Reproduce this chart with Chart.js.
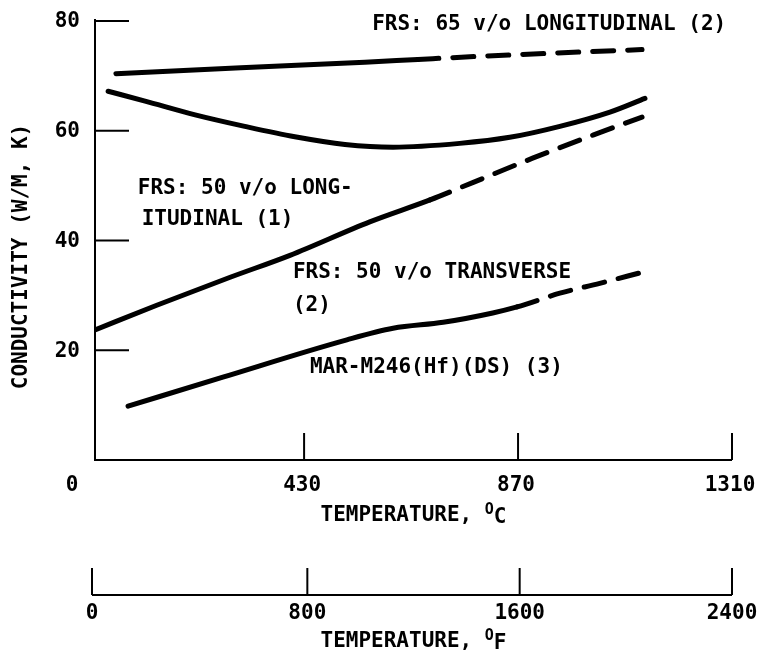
<!DOCTYPE html>
<html>
<head>
<meta charset="utf-8">
<script src="https://cdn.jsdelivr.net/npm/chart.js@4.4.0/dist/chart.umd.min.js"></script>
<style>
  body { margin: 0; background: #fff; }
  canvas { display: block; }
</style>
</head>
<body>
<canvas id="conductivityChart" width="757" height="661"></canvas>
<script>
// Values: temperature in deg C, conductivity in W/(m K)
const frs65LongTemp = [43, 300, 555, 664, 800, 1125];
const frs65LongCond = [70.4, 71.5, 72.5, 73.0, 73.6, 74.8];

const frs50LongTemp = [27, 103, 206, 308, 411, 514, 613, 750, 853, 956, 1059, 1131];
const frs50LongCond = [67.2, 65.4, 62.9, 60.8, 58.9, 57.5, 57.0, 57.7, 58.8, 60.8, 63.4, 65.9];

const frs50TransTemp = [0, 127, 278, 401, 565, 689, 778, 900, 1024, 1125];
const frs50TransCond = [23.7, 28.2, 33.3, 37.3, 43.4, 47.4, 50.6, 55.0, 59.2, 62.5];

const marM246Temp = [68, 263, 518, 613, 716, 818, 868, 956, 1038, 1125];
const marM246Cond = [9.8, 15.1, 21.9, 24.0, 25.1, 26.8, 27.9, 30.4, 32.2, 34.2];

// temperature from which each curve is drawn dashed (extrapolated part)
const dashFrom = [664, null, 689, 868];

const condTicks = [20, 40, 60, 80];
const tempCTicks = [0, 430, 870, 1310];
const tempFTicks = [0, 800, 1600, 2400];

const FONT = 'bold 21px "DejaVu Sans Mono"';
const SMALL_FONT = 'bold 15px "DejaVu Sans Mono"';

function toPoints(xs, ys) {
  return xs.map((x, i) => ({ x: x, y: ys[i] }));
}

function makeDataset(xs, ys, idx) {
  const limit = dashFrom[idx];
  return {
    data: toPoints(xs, ys),
    borderColor: '#000',
    borderWidth: 5,
    borderCapStyle: 'round',
    pointRadius: 0,
    cubicInterpolationMode: 'monotone',
    fill: false,
    segment: {
      borderDash: ctx => (limit !== null && ctx.p0.parsed.x >= limit) ? [21, 14] : undefined
    }
  };
}

// Draw axes like the paper figure: inward ticks, second Fahrenheit scale
const paperAxes = {
  id: 'paperAxes',
  afterDraw(chart) {
    const ctx = chart.ctx;
    const x = chart.scales.x;
    const y = chart.scales.y;
    const xF = chart.scales.xF;
    const x0 = x.getPixelForValue(0);
    const x1 = x.getPixelForValue(1310);
    const yTop = y.getPixelForValue(80);
    const yBase = y.getPixelForValue(0);

    ctx.save();
    ctx.strokeStyle = '#000';
    ctx.fillStyle = '#000';
    ctx.lineWidth = 2;
    ctx.font = FONT;

    // frame: y axis, Celsius base line
    ctx.beginPath();
    ctx.moveTo(x0, yTop - 2);
    ctx.lineTo(x0, yBase);
    ctx.lineTo(x1, yBase);
    ctx.stroke();

    // y ticks point into the plot
    ctx.textAlign = 'right';
    ctx.textBaseline = 'middle';
    condTicks.forEach(v => {
      const py = y.getPixelForValue(v);
      ctx.beginPath();
      ctx.moveTo(x0, py);
      ctx.lineTo(x0 + 34, py);
      ctx.stroke();
      ctx.fillText(String(v), x0 - 15, py + 1);
    });

    // Celsius ticks
    ctx.textAlign = 'center';
    tempCTicks.forEach((v, i) => {
      const px = x.getPixelForValue(v);
      if (i > 0) {
        ctx.beginPath();
        ctx.moveTo(px, yBase);
        ctx.lineTo(px, yBase - 27);
        ctx.stroke();
      }
      ctx.fillText(String(v), i === 0 ? px - 23 : px - 2, yBase + 26);
    });

    // Fahrenheit scale below
    const fBase = yBase + 135;
    const f0 = xF.getPixelForValue(0) - 3;
    const f1 = xF.getPixelForValue(2400);
    ctx.beginPath();
    ctx.moveTo(f0, fBase);
    ctx.lineTo(f1, fBase);
    ctx.stroke();
    tempFTicks.forEach(v => {
      const px = v === 0 ? f0 : xF.getPixelForValue(v);
      ctx.beginPath();
      ctx.moveTo(px, fBase);
      ctx.lineTo(px, fBase - 27);
      ctx.stroke();
      ctx.fillText(String(v), px, fBase + 19);
    });

    // axis titles with raised small "O" for degrees
    const unitTitle = (cx, cy, unit) => {
      const main = 'TEMPERATURE, ';
      ctx.font = FONT;
      const w1 = ctx.measureText(main).width;
      ctx.font = SMALL_FONT;
      const w2 = ctx.measureText('O').width;
      ctx.font = FONT;
      const w3 = ctx.measureText(unit).width;
      const left = cx - (w1 + w2 + w3) / 2;
      ctx.textAlign = 'left';
      ctx.fillText(main, left, cy);
      ctx.font = SMALL_FONT;
      ctx.fillText('O', left + w1, cy - 6);
      ctx.font = FONT;
      ctx.fillText(unit, left + w1 + w2, cy + 2);
    };
    unitTitle((x0 + x1) / 2, yBase + 56, 'C');
    unitTitle((x0 + x1) / 2, fBase + 47, 'F');

    ctx.save();
    ctx.translate(22, (yTop + yBase) / 2 + 16);
    ctx.rotate(-Math.PI / 2);
    ctx.textAlign = 'center';
    ctx.fillText('CONDUCTIVITY (W/M, K)', 0, 0);
    ctx.restore();

    // curve labels, anchored in data units
    ctx.textAlign = 'left';
    const labels = [
      ['FRS: 65 v/o LONGITUDINAL (2)', 570, 79.4],
      ['FRS: 50 v/o LONG-', 88, 49.4],
      ['ITUDINAL (1)', 96, 43.9],
      ['FRS: 50 v/o TRANSVERSE', 407, 34.2],
      ['(2)', 407, 28.2],
      ['MAR-M246(Hf)(DS) (3)', 442, 16.9]
    ];
    labels.forEach(l => {
      ctx.fillText(l[0], x.getPixelForValue(l[1]), y.getPixelForValue(l[2]));
    });

    ctx.restore();
  }
};

const chart = new Chart(document.getElementById('conductivityChart'), {
  type: 'line',
  data: {
    datasets: [
      makeDataset(frs65LongTemp, frs65LongCond, 0),
      makeDataset(frs50LongTemp, frs50LongCond, 1),
      makeDataset(frs50TransTemp, frs50TransCond, 2),
      makeDataset(marM246Temp, marM246Cond, 3)
    ]
  },
  options: {
    responsive: false,
    animation: false,
    layout: {
      padding: { left: 95, right: 25, top: 21, bottom: 201 }
    },
    plugins: {
      legend: { display: false },
      tooltip: { enabled: false }
    },
    scales: {
      x: { type: 'linear', min: 0, max: 1310, display: false },
      xF: { type: 'linear', axis: 'x', position: 'bottom', min: 0, max: 2400, display: false },
      y: { type: 'linear', min: 0, max: 80, display: false }
    }
  },
  plugins: [paperAxes]
});
</script>
</body>
</html>
